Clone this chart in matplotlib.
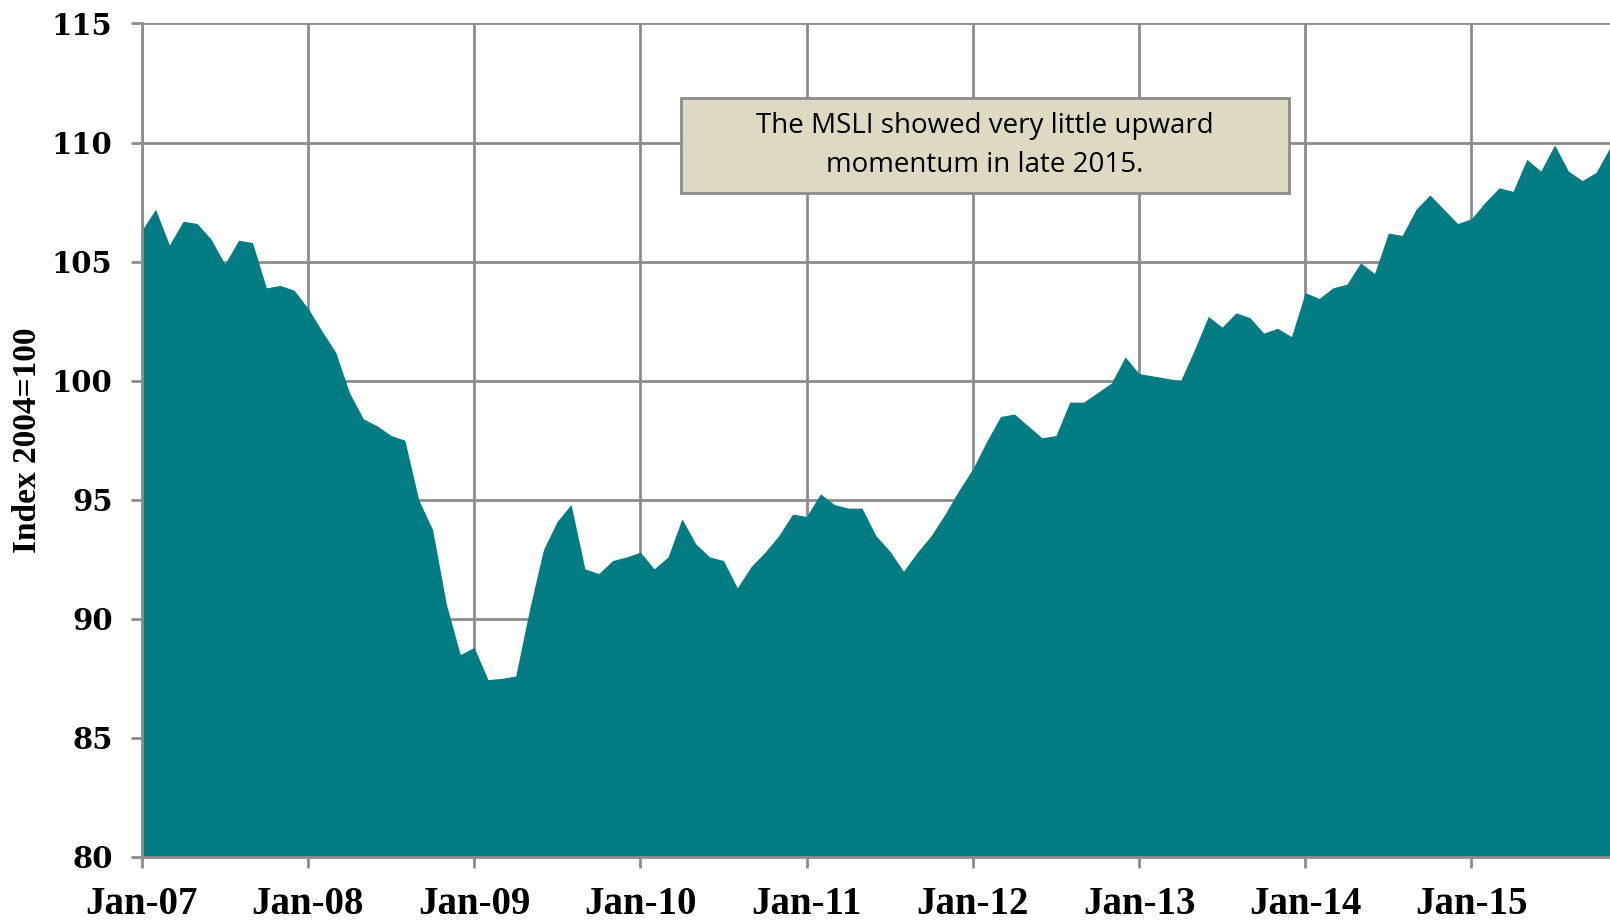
import matplotlib
matplotlib.use("Agg")
import matplotlib.pyplot as plt
from matplotlib.patches import Rectangle
import numpy as np

# Monthly MSLI values, Jan-2007 .. Nov-2015
values = [
    106.3, 107.2, 105.7, 106.7, 106.6, 105.95, 104.9, 105.9, 105.8, 103.9, 104.0, 103.8,   # 2007
    103.05, 102.1, 101.2, 99.5, 98.4, 98.1, 97.7, 97.5, 95.0, 93.75, 90.6, 88.5,          # 2008
    88.8, 87.45, 87.5, 87.6, 90.4, 92.9, 94.1, 94.8, 92.1, 91.9, 92.45, 92.6,              # 2009
    92.8, 92.1, 92.6, 94.2, 93.15, 92.6, 92.45, 91.3, 92.2, 92.8, 93.5, 94.4,              # 2010
    94.3, 95.25, 94.8, 94.65, 94.65, 93.5, 92.85, 92.0, 92.8, 93.5, 94.4, 95.4,            # 2011
    96.3, 97.45, 98.5, 98.6, 98.1, 97.6, 97.7, 99.1, 99.1, 99.5, 99.9, 101.0,              # 2012
    100.3, 100.2, 100.1, 100.0, 101.3, 102.7, 102.25, 102.85, 102.65, 102.0, 102.2, 101.85,  # 2013
    103.7, 103.45, 103.9, 104.05, 104.95, 104.5, 106.2, 106.1, 107.2, 107.8, 107.2, 106.6,  # 2014
    106.8, 107.5, 108.1, 107.95, 109.3, 108.8, 109.9, 108.8, 108.4, 108.75, 109.8,          # 2015
]
tick_labels = ["Jan-07", "Jan-08", "Jan-09", "Jan-10", "Jan-11",
               "Jan-12", "Jan-13", "Jan-14", "Jan-15"]
y_ticks = [80, 85, 90, 95, 100, 105, 110, 115]
note = "The MSLI showed very little upward\nmomentum in late 2015."
y_label = "Index 2004=100"

x = np.arange(len(values))

fig = plt.figure(figsize=(16.1, 9.21), dpi=100)
ax = fig.add_axes([0.088, 0.0695, 0.912, 0.905])

ax.fill_between(x, 80, values, color="#017C82", linewidth=0, zorder=3)

ax.set_xlim(0, len(values) - 1)
ax.set_ylim(80, 115)
ax.set_yticks(y_ticks)
ax.set_xticks(np.arange(len(tick_labels)) * 12)
ax.set_xticklabels(tick_labels)

grid_col = "#8c8c8c"
ax.grid(True, color=grid_col, linewidth=2, zorder=1)
ax.set_axisbelow(True)
for s in ["top", "right"]:
    ax.spines[s].set_visible(False)
for s in ["left", "bottom"]:
    ax.spines[s].set_color(grid_col)
    ax.spines[s].set_linewidth(2)
    ax.spines[s].set_zorder(4)

ax.tick_params(axis="both", direction="out", length=8, width=2, color=grid_col)
ax.tick_params(axis="x", pad=13)
ax.tick_params(axis="y", pad=13)

for lab in ax.get_xticklabels():
    lab.set_fontfamily("Liberation Serif")
    lab.set_fontweight("bold")
    lab.set_fontsize(28)
for lab in ax.get_yticklabels():
    lab.set_fontfamily("DejaVu Serif")
    lab.set_fontweight("bold")
    lab.set_fontsize(21)

ax.set_ylabel(y_label, fontfamily="Liberation Serif", fontweight="bold",
              fontsize=24, va="center")
ax.yaxis.set_label_coords(-0.0776, 0.5)

# annotation box
bx0, bx1, by0, by1 = 0.3673, 0.7814, 0.7966, 0.9112
ax.add_patch(Rectangle((bx0, by0), bx1 - bx0, by1 - by0, transform=ax.transAxes,
                       facecolor="#DDD9C3", edgecolor="#8c8c8c", linewidth=2,
                       zorder=6, clip_on=False))
ax.text((bx0 + bx1) / 2, (by0 + by1) / 2, note, transform=ax.transAxes,
        ha="center", va="center", fontfamily="Open Sans", fontsize=20,
        linespacing=1.5, zorder=7)

fig.savefig("out.png", dpi=100)
